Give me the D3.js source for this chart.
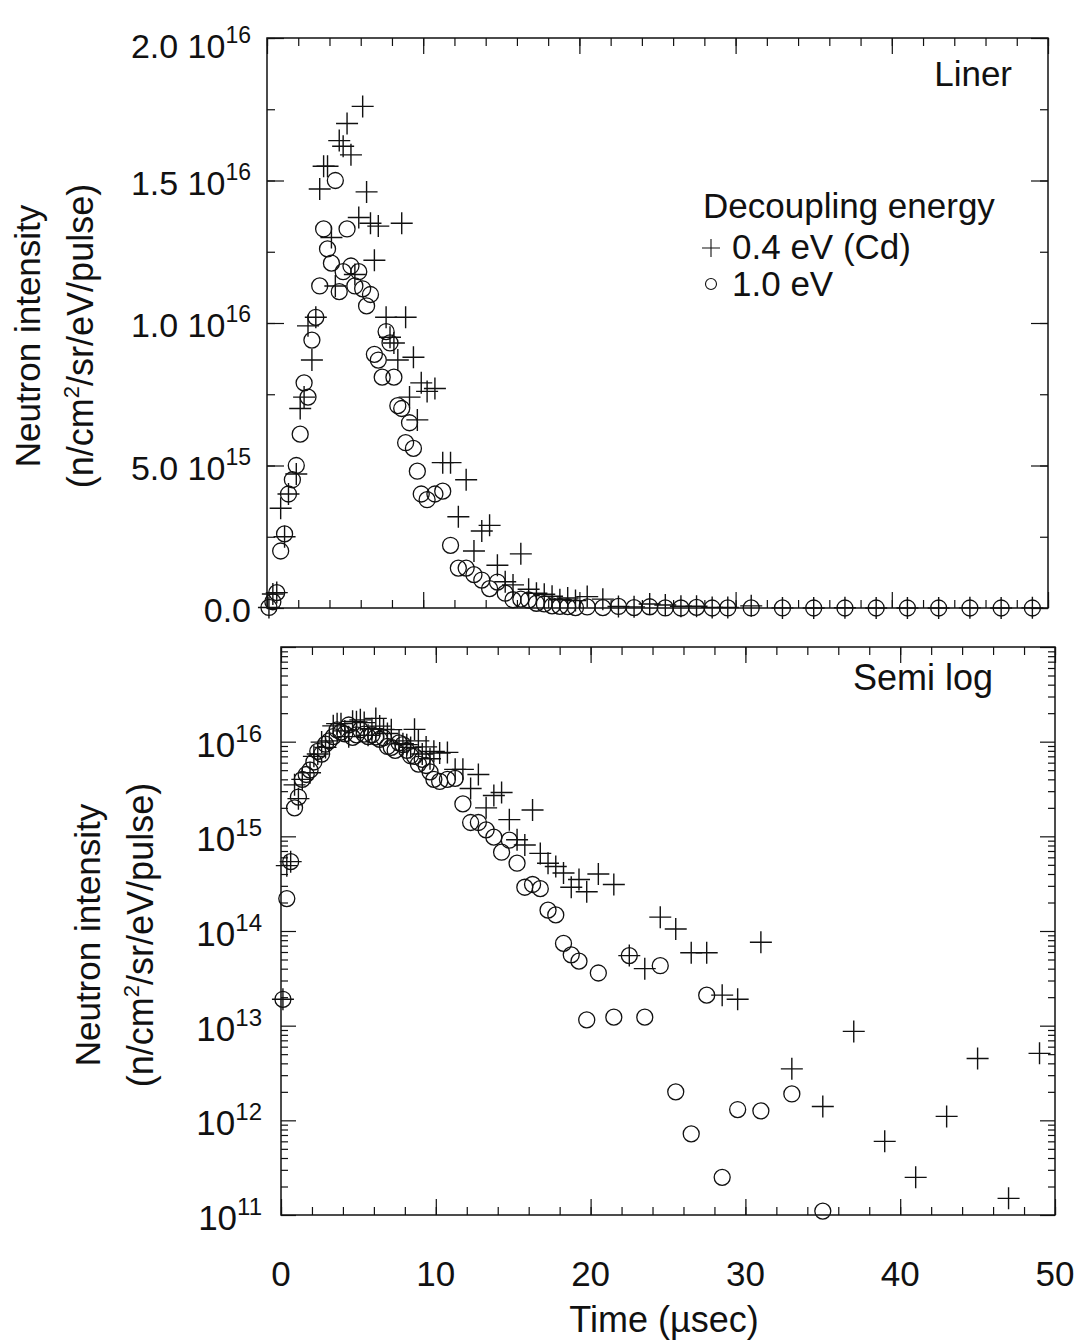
<!DOCTYPE html>
<html>
<head>
<meta charset="utf-8">
<script src="https://cdn.jsdelivr.net/npm/d3@7"></script>
<style>
  body { margin: 0; background: #fff; }
  svg { display: block; font-family: "Liberation Sans", Arial, Helvetica, sans-serif; }
</style>
</head>
<body>
<div id="chart"></div>
<script>
// time bin centres (usec)
var timeUs = [
  0.125, 0.375, 0.625, 0.875, 1.125, 1.375, 1.625, 1.875, 2.125, 2.375,
  2.625, 2.875, 3.125, 3.375, 3.625, 3.875, 4.125, 4.375, 4.625, 4.875,
  5.125, 5.375, 5.625, 5.875, 6.125, 6.375, 6.625, 6.875, 7.125, 7.375,
  7.625, 7.875, 8.125, 8.375, 8.625, 8.875, 9.125, 9.375, 9.625, 9.875,
  10.25, 10.75, 11.25, 11.75, 12.25, 12.75, 13.25, 13.75, 14.25, 14.75,
  15.25, 15.75, 16.25, 16.75, 17.25, 17.75, 18.25, 18.75, 19.25, 19.75,
  20.5, 21.5, 22.5, 23.5, 24.5, 25.5, 26.5, 27.5, 28.5, 29.5,
  31, 33, 35, 37, 39, 41, 43, 45, 47, 49
];

// decoupling 0.4 eV (Cd)  -> plus markers
var cdPlus = [
  1.9e13, 4.9e14, 5.4e14, 3.5e15, 2.5e15, 4.0e15, null, 4.7e15, 7.0e15, 7.4e15,
  9.9e15, 8.7e15, 1.02e16, 1.47e16, 1.55e16, 1.55e16, 1.30e16, 1.13e16, 1.64e16, 1.62e16,
  1.70e16, 1.59e16, 1.17e16, 1.37e16, 1.76e16, 1.46e16, 1.35e16, 1.22e16, 1.34e16, null,
  1.02e16, 9.5e15, 9.3e15, 8.7e15, 1.35e16, 1.02e16, 7.4e15, 8.8e15, 6.6e15, 7.9e15,
  7.6e15, 7.7e15, 5.1e15, 5.1e15, 3.2e15, 4.5e15, 2.0e15, 2.7e15, 2.9e15, 1.5e15,
  9.2e14, 8.1e14, 1.9e15, 6.6e14, 5.2e14, 4.8e14, 4.1e14, 2.9e14, 3.5e14, 2.6e14,
  4.0e14, 3.1e14, 5.5e13, 4.0e13, 1.4e14, 1.05e14, 5.9e13, 5.9e13, 2.1e13, 1.9e13,
  7.6e13, 3.5e12, 1.4e12, 8.7e12, 6.0e11, 2.5e11, 1.1e12, 4.5e12, 1.5e11, 5.1e12
];

// decoupling 1.0 eV -> circle markers
var evCircle = [
  1.9e13, 2.2e14, 5.4e14, 2.0e15, 2.6e15, 4.0e15, 4.5e15, 5.0e15, 6.1e15, 7.9e15,
  7.4e15, 9.4e15, 1.02e16, 1.13e16, 1.33e16, 1.26e16, 1.21e16, 1.50e16, 1.11e16, 1.18e16,
  1.33e16, 1.20e16, 1.13e16, 1.18e16, 1.12e16, 1.06e16, 1.10e16, 8.9e15, 8.7e15, 8.1e15,
  9.7e15, 9.3e15, 8.1e15, 7.1e15, 7.0e15, 5.8e15, 6.5e15, 5.6e15, 4.8e15, 4.0e15,
  3.8e15, 4.0e15, 4.1e15, 2.2e15, 1.4e15, 1.4e15, 1.17e15, 9.8e14, 6.8e14, 9.1e14,
  5.2e14, 2.9e14, 3.1e14, 2.8e14, 1.66e14, 1.48e14, 7.4e13, 5.6e13, 4.8e13, 1.15e13,
  3.6e13, 1.23e13, 5.5e13, 1.23e13, 4.3e13, 2.0e12, 7.2e11, 2.1e13, 2.5e11, 1.3e12,
  1.26e12, 1.9e12, 1.1e11, 0, 0, 0, 0, 0, 0, 0
];

// tick labels
var xTicks = [0, 10, 20, 30, 40, 50];
var linTicks = [0, 5e15, 1e16, 1.5e16, 2e16];
var linTickBase = ["0.0", "5.0 10", "1.0 10", "1.5 10", "2.0 10"];
var linTickExp = ["", "15", "16", "16", "16"];
var logTicks = [1e11, 1e12, 1e13, 1e14, 1e15, 1e16];
var logTickExp = ["11", "12", "13", "14", "15", "16"];

var ink = "#111";
var svg = d3.select("#chart").append("svg")
    .attr("width", 1079)
    .attr("height", 1343);

var linBox = { left: 267, right: 1048, top: 38, bottom: 608 },
    logBox = { left: 281, right: 1055, top: 647, bottom: 1215 };

var xLin = d3.scaleLinear().domain([0, 50]).range([linBox.left, linBox.right]),
    yLin = d3.scaleLinear().domain([0, 2e16]).range([linBox.bottom, linBox.top]),
    xLog = d3.scaleLinear().domain([0, 50]).range([logBox.left, logBox.right]),
    yLog = d3.scaleLog().domain([1e11, 1e17]).range([logBox.bottom, logBox.top]);

// inward tick marks drawn with d3 axes, labels done separately
function ticks(axis, tx, ty, values, size) {
    var g = svg.append("g")
        .attr("transform", "translate(" + tx + "," + ty + ")")
        .attr("color", ink)
        .call(axis.tickValues(values).tickSize(size).tickFormat(""));
    g.select(".domain").remove();
    g.selectAll("line").attr("stroke-width", 1.2);
}

function frame(b) {
    svg.append("rect")
        .attr("x", b.left).attr("y", b.top)
        .attr("width", b.right - b.left).attr("height", b.bottom - b.top)
        .attr("fill", "none").attr("stroke", ink).attr("stroke-width", 1.5);
}

var minorX = d3.range(0, 51, 2);

function xTickMarks(x, b) {
    ticks(d3.axisBottom(x), 0, b.bottom, minorX, -8);
    ticks(d3.axisBottom(x), 0, b.bottom, xTicks, -16);
    ticks(d3.axisTop(x), 0, b.top, minorX, -8);
    ticks(d3.axisTop(x), 0, b.top, xTicks, -16);
}

// ---- top panel (linear) ----
frame(linBox);
xTickMarks(xLin, linBox);
var linMinor = d3.range(0, 2.01e16, 2.5e15);
ticks(d3.axisLeft(yLin), linBox.left, 0, linMinor, -8);
ticks(d3.axisLeft(yLin), linBox.left, 0, linTicks, -17);
ticks(d3.axisRight(yLin), linBox.right, 0, linMinor, -8);
ticks(d3.axisRight(yLin), linBox.right, 0, linTicks, -17);

linTicks.forEach(function(v, i) {
    var t = svg.append("text")
        .attr("x", 251)
        .attr("y", Math.max(yLin(v) + 14, 58))
        .attr("text-anchor", "end")
        .attr("font-size", 34)
        .attr("fill", ink);
    t.append("tspan").text(linTickBase[i]);
    if (linTickExp[i]) t.append("tspan").attr("font-size", 23).attr("dy", -15).text(linTickExp[i]);
});

// ---- bottom panel (semi log) ----
frame(logBox);
xTickMarks(xLog, logBox);
var logMinor = [];
logTicks.forEach(function(d) {
    for (var m = 2; m <= 9; m++) logMinor.push(d * m);
});
ticks(d3.axisLeft(yLog), logBox.left, 0, logMinor, -7);
ticks(d3.axisLeft(yLog), logBox.left, 0, logTicks.concat([1e17]), -15);
ticks(d3.axisRight(yLog), logBox.right, 0, logMinor, -7);
ticks(d3.axisRight(yLog), logBox.right, 0, logTicks.concat([1e17]), -15);

logTicks.forEach(function(v, i) {
    var t = svg.append("text")
        .attr("x", 262)
        .attr("y", yLog(v) + 15)
        .attr("text-anchor", "end")
        .attr("font-size", 35)
        .attr("fill", ink);
    t.append("tspan").text("10");
    t.append("tspan").attr("font-size", 24).attr("dy", -15).text(logTickExp[i]);
});

xTicks.forEach(function(v) {
    svg.append("text")
        .attr("x", xLog(v))
        .attr("y", 1286)
        .attr("text-anchor", "middle")
        .attr("font-size", 35)
        .attr("fill", ink)
        .text(v);
});

svg.append("text")
    .attr("x", 664).attr("y", 1332)
    .attr("text-anchor", "middle")
    .attr("font-size", 36)
    .attr("fill", ink)
    .text("Time (\u00b5sec)");

// y titles
function yTitle(x1, x2, cy) {
    svg.append("text")
        .attr("transform", "translate(" + x1 + "," + cy + ") rotate(-90)")
        .attr("text-anchor", "middle")
        .attr("dy", "0.35em")
        .attr("font-size", 35)
        .attr("fill", ink)
        .text("Neutron intensity");
    var t = svg.append("text")
        .attr("transform", "translate(" + x2 + "," + cy + ") rotate(-90)")
        .attr("text-anchor", "middle")
        .attr("dy", "0.35em")
        .attr("font-size", 36)
        .attr("fill", ink);
    t.append("tspan").text("(n/cm");
    t.append("tspan").attr("font-size", 22).attr("dy", -14).text("2");
    t.append("tspan").attr("dy", 14).text("/sr/eV/pulse)");
}
yTitle(28, 80, 336);
yTitle(88, 140, 935);

// panel names
svg.append("text").attr("x", 1012).attr("y", 86).attr("text-anchor", "end")
    .attr("font-size", 35).attr("fill", ink).text("Liner");
svg.append("text").attr("x", 993).attr("y", 690).attr("text-anchor", "end")
    .attr("font-size", 36).attr("fill", ink).text("Semi log");

// markers
var plusPath = "M-11,0H11M0,-11V11";

function drawSeries(x, y, keep) {
    var pts = timeUs.map(function(t, i) { return { t: t, cd: cdPlus[i], ev: evCircle[i] }; });

    svg.append("g").selectAll("circle")
        .data(pts.filter(function(d) { return keep(d.ev); }))
        .enter().append("circle")
        .attr("cx", function(d) { return x(d.t); })
        .attr("cy", function(d) { return y(d.ev); })
        .attr("r", 8)
        .attr("fill", "none")
        .attr("stroke", ink)
        .attr("stroke-width", 1.3);

    svg.append("g").selectAll("path")
        .data(pts.filter(function(d) { return keep(d.cd); }))
        .enter().append("path")
        .attr("transform", function(d) { return "translate(" + x(d.t) + "," + y(d.cd) + ")"; })
        .attr("d", plusPath)
        .attr("fill", "none")
        .attr("stroke", ink)
        .attr("stroke-width", 1.4);
}

drawSeries(xLin, yLin, function(v) { return v !== null; });
drawSeries(xLog, yLog, function(v) { return v !== null && v >= 1e11; });

// legend
svg.append("text").attr("x", 703).attr("y", 218)
    .attr("font-size", 35).attr("fill", ink).text("Decoupling energy");
svg.append("path").attr("transform", "translate(711,248)")
    .attr("d", "M-9,0H9M0,-9V9").attr("stroke", ink).attr("stroke-width", 1.1);
svg.append("text").attr("x", 732).attr("y", 259)
    .attr("font-size", 35).attr("fill", ink).text("0.4 eV (Cd)");
svg.append("circle").attr("cx", 711).attr("cy", 284).attr("r", 5.5)
    .attr("fill", "none").attr("stroke", ink).attr("stroke-width", 1.1);
svg.append("text").attr("x", 732).attr("y", 296)
    .attr("font-size", 35).attr("fill", ink).text("1.0 eV");
</script>
</body>
</html>
